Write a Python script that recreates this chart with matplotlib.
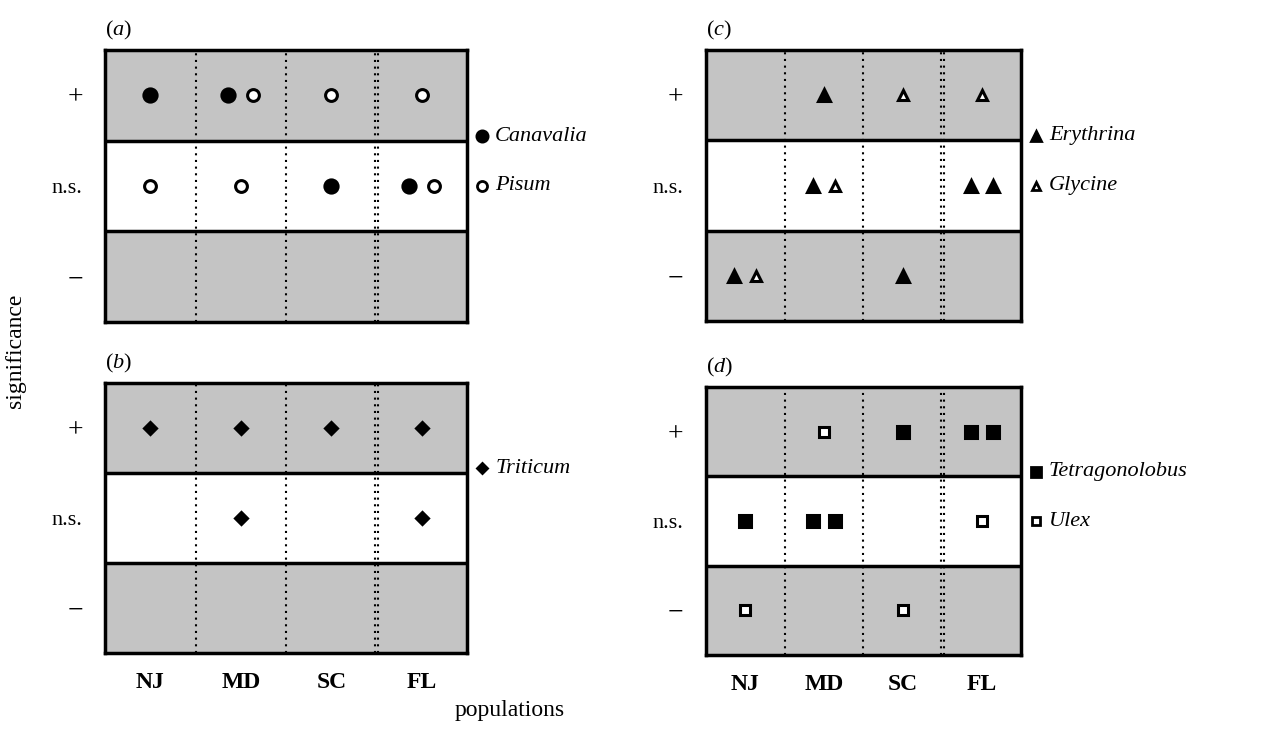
import matplotlib
matplotlib.use('Agg')
import matplotlib.pyplot as plt
import matplotlib.transforms as mtransforms

plt.rcParams.update({
    'font.family': ['Liberation Serif', 'DejaVu Serif'],
    'mathtext.fontset': 'custom',
    'mathtext.rm': 'Liberation Serif',
    'mathtext.it': 'Liberation Serif:italic',
})

populations = ['NJ', 'MD', 'SC', 'FL']
sig_levels = ['\u2212', 'n.s.', '+']

# panel (a)
canavalia_pop = ['NJ', 'MD', 'SC', 'FL']
canavalia_sig = ['+', '+', 'n.s.', 'n.s.']
pisum_pop = ['MD', 'SC', 'FL', 'NJ', 'MD', 'FL']
pisum_sig = ['+', '+', '+', 'n.s.', 'n.s.', 'n.s.']
# panel (b)
triticum_pop = ['NJ', 'MD', 'SC', 'FL', 'MD', 'FL']
triticum_sig = ['+', '+', '+', '+', 'n.s.', 'n.s.']
# panel (c)
erythrina_pop = ['MD', 'MD', 'FL', 'FL', 'NJ', 'SC']
erythrina_sig = ['+', 'n.s.', 'n.s.', 'n.s.', '\u2212', '\u2212']
glycine_pop = ['SC', 'FL', 'MD', 'NJ']
glycine_sig = ['+', '+', 'n.s.', '\u2212']
# panel (d)
tetra_pop = ['SC', 'FL', 'FL', 'NJ', 'MD', 'MD']
tetra_sig = ['+', '+', '+', 'n.s.', 'n.s.', 'n.s.']
ulex_pop = ['MD', 'FL', 'NJ', 'SC']
ulex_sig = ['+', 'n.s.', '\u2212', '\u2212']

panels = [
    ('a', [('Canavalia', canavalia_pop, canavalia_sig, 'o', True, 9.5),
           ('Pisum', pisum_pop, pisum_sig, 'o', False, 8.5)]),
    ('b', [('Triticum', triticum_pop, triticum_sig, 'D', True, 6.5)]),
    ('c', [('Erythrina', erythrina_pop, erythrina_sig, '^', True, 8.5),
           ('Glycine', glycine_pop, glycine_sig, '^', False, 7.5)]),
    ('d', [('Tetragonolobus', tetra_pop, tetra_sig, 's', True, 8.5),
           ('Ulex', ulex_pop, ulex_sig, 's', False, 7.5)]),
]

positions = {
    'a': [0.082, 0.559, 0.2826, 0.3726],
    'b': [0.082, 0.1055, 0.2826, 0.370],
    'c': [0.5511, 0.5603, 0.2459, 0.371],
    'd': [0.5511, 0.1027, 0.2459, 0.367],
}

fig = plt.figure(figsize=(12.81, 7.30), dpi=100)
gray = '#c4c4c4'
pair_off = 0.14

for letter, species in panels:
    ax = fig.add_axes(positions[letter])
    ax.set_xlim(0, 4)
    ax.set_ylim(0, 3)
    ax.axhspan(2, 3, color=gray, lw=0, zorder=0)
    ax.axhspan(0, 1, color=gray, lw=0, zorder=0)
    for yb in [1, 2]:
        ax.axhline(yb, color='black', lw=2.5, zorder=2)
    for xb in [1, 2, 2.98, 3.02]:
        ax.axvline(xb, color='black', lw=1.5, ls=(0, (1, 2.2)), zorder=1)
    for sp in ax.spines.values():
        sp.set_linewidth(2.5)

    # collect points per cell to place pairs side by side
    cells = {}
    for name, pops, sigs, mk, filled, ms in species:
        for p, s in zip(pops, sigs):
            cells.setdefault((p, s), []).append((mk, filled, ms))
    for (p, s), items in cells.items():
        xc = populations.index(p) + 0.5
        yc = sig_levels.index(s) + 0.5
        n = len(items)
        for i, (mk, filled, ms) in enumerate(items):
            x = xc + (i - (n - 1) / 2) * 2 * pair_off
            ax.plot(x, yc, marker=mk, ms=ms, mfc='black' if filled else 'white',
                    mec='black', mew=2.2, ls='none', zorder=3)

    # legend entries outside right edge
    trans = mtransforms.blended_transform_factory(ax.transAxes, ax.transData)
    leg_y = [2.05, 1.5]
    for (name, pops, sigs, mk, filled, ms), ly in zip(species, leg_y):
        mt = mtransforms.offset_copy(trans, fig=fig, x=15, y=0, units='dots')
        ax.plot(1.0, ly, marker=mk, ms=ms * 0.85, mfc='black' if filled else 'white',
                mec='black', mew=2, ls='none', transform=mt, clip_on=False)
        tt = mtransforms.offset_copy(trans, fig=fig, x=28, y=0, units='dots')
        ax.text(1.0, ly, name, transform=tt, fontsize=16, style='italic',
                va='center', ha='left')

    ax.set_yticks([0.5, 1.5, 2.5])
    ax.set_yticklabels(sig_levels, fontsize=16)
    for lab, fs in zip(ax.get_yticklabels(), [20, 16, 20]):
        lab.set_fontsize(fs)
    ax.tick_params(axis='y', length=0, pad=16)
    if letter in ('b', 'd'):
        ax.set_xticks([0.5, 1.5, 2.5, 3.5])
        ax.set_xticklabels(populations, fontsize=17, fontweight='bold')
        ax.tick_params(axis='x', length=0, pad=14)
    else:
        ax.set_xticks([])
    ax.text(0.0, 1.03, r'($\mathit{%s}$)' % letter, transform=ax.transAxes,
            fontsize=16, ha='left', va='bottom')

fig.text(0.012, 0.52, 'significance', rotation=90, fontsize=17, ha='center', va='center')
fig.text(0.398, 0.027, 'populations', fontsize=17, ha='center', va='center')

fig.savefig('out.png', dpi=100)
